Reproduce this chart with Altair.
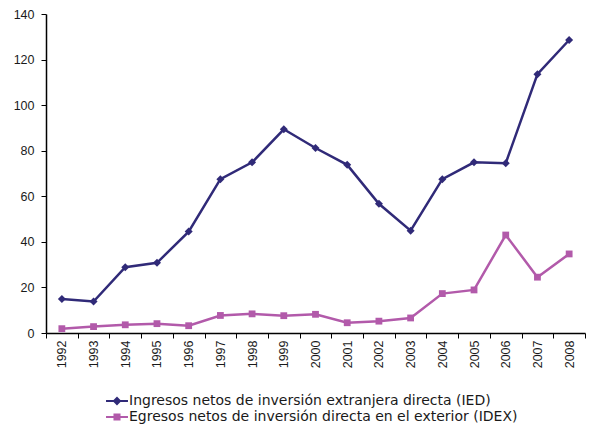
import altair as alt
import pandas as pd

years = [str(y) for y in range(1992, 2009)]
ied = [14.9, 13.8, 28.9, 30.8, 44.5, 67.5, 74.9, 89.4, 81.2, 73.8, 56.7, 44.9, 67.5, 74.9, 74.5, 113.6, 128.6]
idex = [1.9, 2.8, 3.6, 4.1, 3.2, 7.7, 8.4, 7.6, 8.2, 4.5, 5.2, 6.6, 17.3, 18.9, 43.0, 24.5, 34.7]
series = ["Ingresos netos de inversión extranjera directa (IED)",
          "Egresos netos de inversión directa en el exterior (IDEX)"]
colors = ["#302a78", "#b25aaa"]
marker_shapes = ["M0,-1L1,0L0,1L-1,0Z", "M-0.85,-0.85H0.85V0.85H-0.85Z"]
legend_shapes = ["M-1.83,0H1.83M0,-0.5L0.5,0L0,0.5L-0.5,0Z",
                 "M-1.83,0H1.83M-0.42,-0.42H0.42V0.42H-0.42Z"]

rows = []
for i, y in enumerate(years):
    rows.append({"year": y, "value": ied[i], "series": series[0]})
    rows.append({"year": y, "value": idex[i], "series": series[1]})
df = pd.DataFrame(rows)

common = dict(
    title=None, orient="none", direction="vertical",
    labelFontSize=14, labelFont="DejaVu Sans", labelColor="#1a1a1a",
    labelLimit=0, symbolSize=144, symbolStrokeWidth=2, labelOffset=5,
)
legend_a = alt.Legend(legendX=64, legendY=380,
                      symbolType=legend_shapes[0], symbolStrokeColor=colors[0],
                      symbolFillColor=colors[0], **common)
legend_b = alt.Legend(legendX=64, legendY=396,
                      symbolType=legend_shapes[1], symbolStrokeColor=colors[1],
                      symbolFillColor=colors[1], **common)

x = alt.X("year:O", title=None,
          scale=alt.Scale(type="band", paddingInner=0, paddingOuter=0),
          axis=alt.Axis(labelAngle=270, tickBand="extent", labelFontSize=12.5,
                        labelPadding=2, tickSize=5))
y = alt.Y("value:Q", title=None,
          scale=alt.Scale(domain=[0, 140], nice=False),
          axis=alt.Axis(values=list(range(0, 141, 20)), labelFontSize=12.5,
                        tickSize=5, labelPadding=7))
stroke = alt.Stroke("series:N", scale=alt.Scale(domain=series, range=colors), legend=None)

lines = alt.Chart(df).mark_line(strokeWidth=2.5).encode(x=x, y=y, stroke=stroke)

points_a = alt.Chart(df).transform_filter(
    alt.datum.series == series[0]
).mark_point(filled=True, size=64, opacity=1, shape=marker_shapes[0]).encode(
    x=x, y=y,
    fill=alt.Fill("series:N", scale=alt.Scale(domain=[series[0]], range=[colors[0]]), legend=legend_a),
)
points_b = alt.Chart(df).transform_filter(
    alt.datum.series == series[1]
).mark_point(filled=True, size=64, opacity=1, shape=marker_shapes[1]).encode(
    x=x, y=y,
    fill=alt.Fill("series:N", scale=alt.Scale(domain=[series[1]], range=[colors[1]]), legend=legend_b),
)

chart = alt.layer(lines, points_a, points_b).resolve_scale(fill="independent").properties(
    width=539, height=319, padding={"left": 5, "top": 0, "right": 0, "bottom": 0}
).configure_view(stroke=None).configure_axis(
    grid=False, domainColor="#000000", tickColor="#000000", domainWidth=1.5,
    labelFont="Liberation Sans", labelColor="#1a1a1a"
)

chart.save("out.html", embed_options={"renderer": "svg", "actions": False})
